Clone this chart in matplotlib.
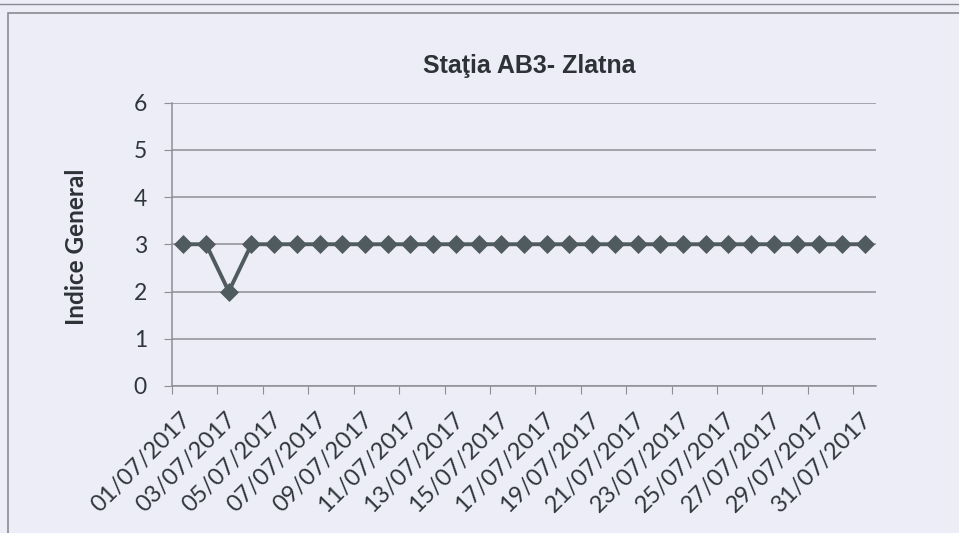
import matplotlib
matplotlib.use("Agg")
import matplotlib.pyplot as plt
from matplotlib.patches import Rectangle
from matplotlib.lines import Line2D
import matplotlib.transforms as mtransforms

title = "Staţia AB3- Zlatna"
ylabel = "Indice General"
dates = ["%02d/07/2017" % d for d in range(1, 32)]
values = [3, 3, 2] + [3] * 28
yticks = [0, 1, 2, 3, 4, 5, 6]

W, H = 959, 533
fig = plt.figure(figsize=(W / 100, H / 100), dpi=100)
bg = "#ededf8"
fig.patch.set_facecolor(bg)

# outer chart frame
fig.add_artist(Rectangle((8 / W, -0.05), 1.1, 1 - 13 / H + 0.05, transform=fig.transFigure,
                         fill=False, edgecolor="#8a8a92", lw=1.2))
fig.add_artist(Line2D([0, 1], [1 - 4 / H, 1 - 4 / H], transform=fig.transFigure,
                      color="#8a8a92", lw=1.0))

ax = fig.add_axes([172 / W, 1 - 386 / H, (876 - 172) / W, (386 - 102.5) / H])
ax.set_facecolor(bg)

x = list(range(len(dates)))
col = "#4f5b5e"
ax.plot(x, values, color=col, lw=2.8, marker="D", markersize=9.5,
        markerfacecolor=col, markeredgecolor=col, markeredgewidth=0.5, zorder=3)

ax.set_xlim(-0.5, len(dates) - 0.5)
ax.set_ylim(0, 6)
ax.set_yticks(yticks)
ax.yaxis.grid(True, color="#8e8e96", lw=1.1)
ax.set_axisbelow(True)

tick_pos = [i - 0.5 for i in range(0, len(dates), 2)]
ax.set_xticks(tick_pos)
ax.set_xticklabels([""] * len(tick_pos))
base = ax.get_xaxis_transform()
offset = mtransforms.ScaledTranslation(8 / 100, -23 / 100, fig.dpi_scale_trans)
for p, lab in zip(tick_pos, dates[::2]):
    ax.text(p, 0, lab, transform=base + offset, rotation=45, ha="right", va="top",
            rotation_mode="anchor", fontsize=17, family="Lato", color="#2f363b",
            clip_on=False)

for s in ["top", "right"]:
    ax.spines[s].set_visible(False)
for s in ["left", "bottom"]:
    ax.spines[s].set_color("#8e8e96")
    ax.spines[s].set_linewidth(1.1)

ax.tick_params(axis="x", length=6, color="#8e8e96")
ax.tick_params(axis="y", length=6, color="#8e8e96", labelsize=16.5, labelcolor="#2f363b", pad=12)
for lbl in ax.get_yticklabels():
    lbl.set_fontfamily("Lato")

fig.text(529 / W, 1 - 66 / H, title, ha="center", va="center", fontsize=18,
         fontweight="bold", family="Liberation Sans", color="#2c3236")
fig.text(77 / W, 1 - 247 / H, ylabel, ha="center", va="center", rotation=90,
         fontsize=17.5, fontweight="bold", family="Lato", color="#2c3236")

fig.savefig("out.png", dpi=100, facecolor=bg)
